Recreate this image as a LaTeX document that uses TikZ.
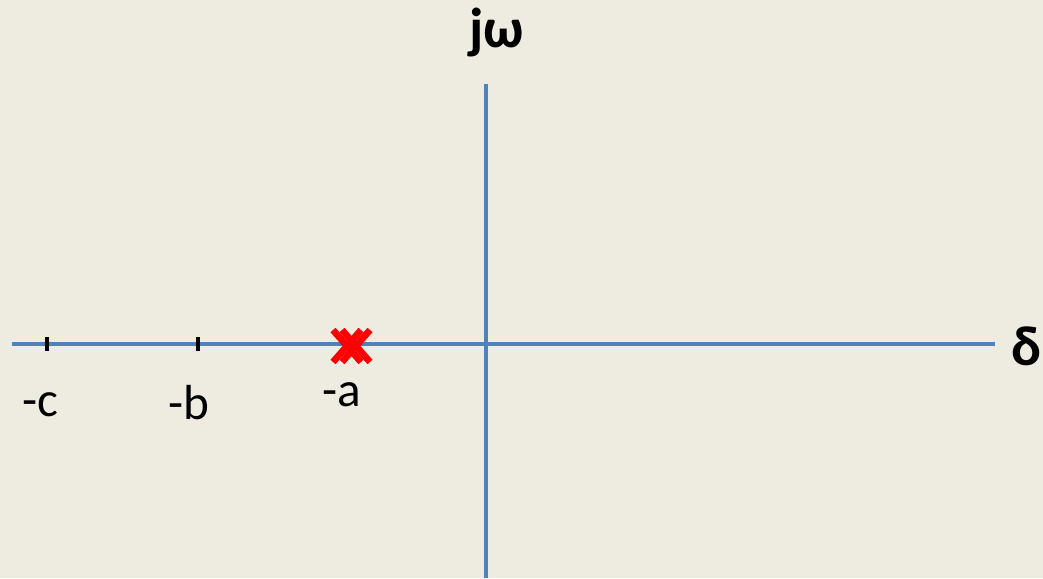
\documentclass[tikz,border=0pt]{standalone}
\usepackage{fontspec}
\setmainfont{Carlito}
\usepackage{tikz}
\usetikzlibrary{positioning}
\definecolor{PaperTan}{RGB}{238,235,224}
\definecolor{AxisBlue}{RGB}{79,129,189}
\definecolor{PoleRed}{RGB}{255,0,0}

\begin{document}
\begin{tikzpicture}[x=0.01cm, y=-0.01cm,
    axis/.style={draw=AxisBlue, line width=1.2pt},
    tick/.style={draw=black, line width=1.4pt},
    pole/.style={draw=PoleRed, line width=1.9pt},
    axislabel/.style={font=\fontsize{16}{18}\selectfont\bfseries, inner sep=0pt},
    ticklabel/.style={font=\fontsize{14}{16}\selectfont, inner sep=0pt}]
\fill[PaperTan] (0,0) rectangle (1043,578);
\useasboundingbox (0,0) rectangle (1043,578);
% axes
\coordinate (re-left) at (12,344);
\coordinate (re-right) at (995,344);
\coordinate (im-top) at (486,84);
\coordinate (im-bottom) at (486,578);
\draw[axis] (re-left) -- (re-right);
\draw[axis] (im-top) -- (im-bottom);
\node[axislabel] (sigma) at (1026,346) {δ};
\node[axislabel] (omega) at (497,33) {jω};
% ticks
\coordinate (c) at (47,344);
\coordinate (b) at (198,344);
\draw[tick] ([yshift=-2pt]c) -- ([yshift=2pt]c);
\draw[tick] ([yshift=-2pt]b) -- ([yshift=2pt]b);
\node[ticklabel] (c-label) at (40,405) {-c};
\node[ticklabel] (b-label) at (189,403) {-b};
\node[ticklabel] (a-label) at (342,395) {-a};
% pole at -a
\foreach \dx in {347,356} {
  \draw[pole] (\dx-14,330) -- (\dx+14,362);
  \draw[pole] (\dx-14,362) -- (\dx+14,330);
}
\end{tikzpicture}
\end{document}
